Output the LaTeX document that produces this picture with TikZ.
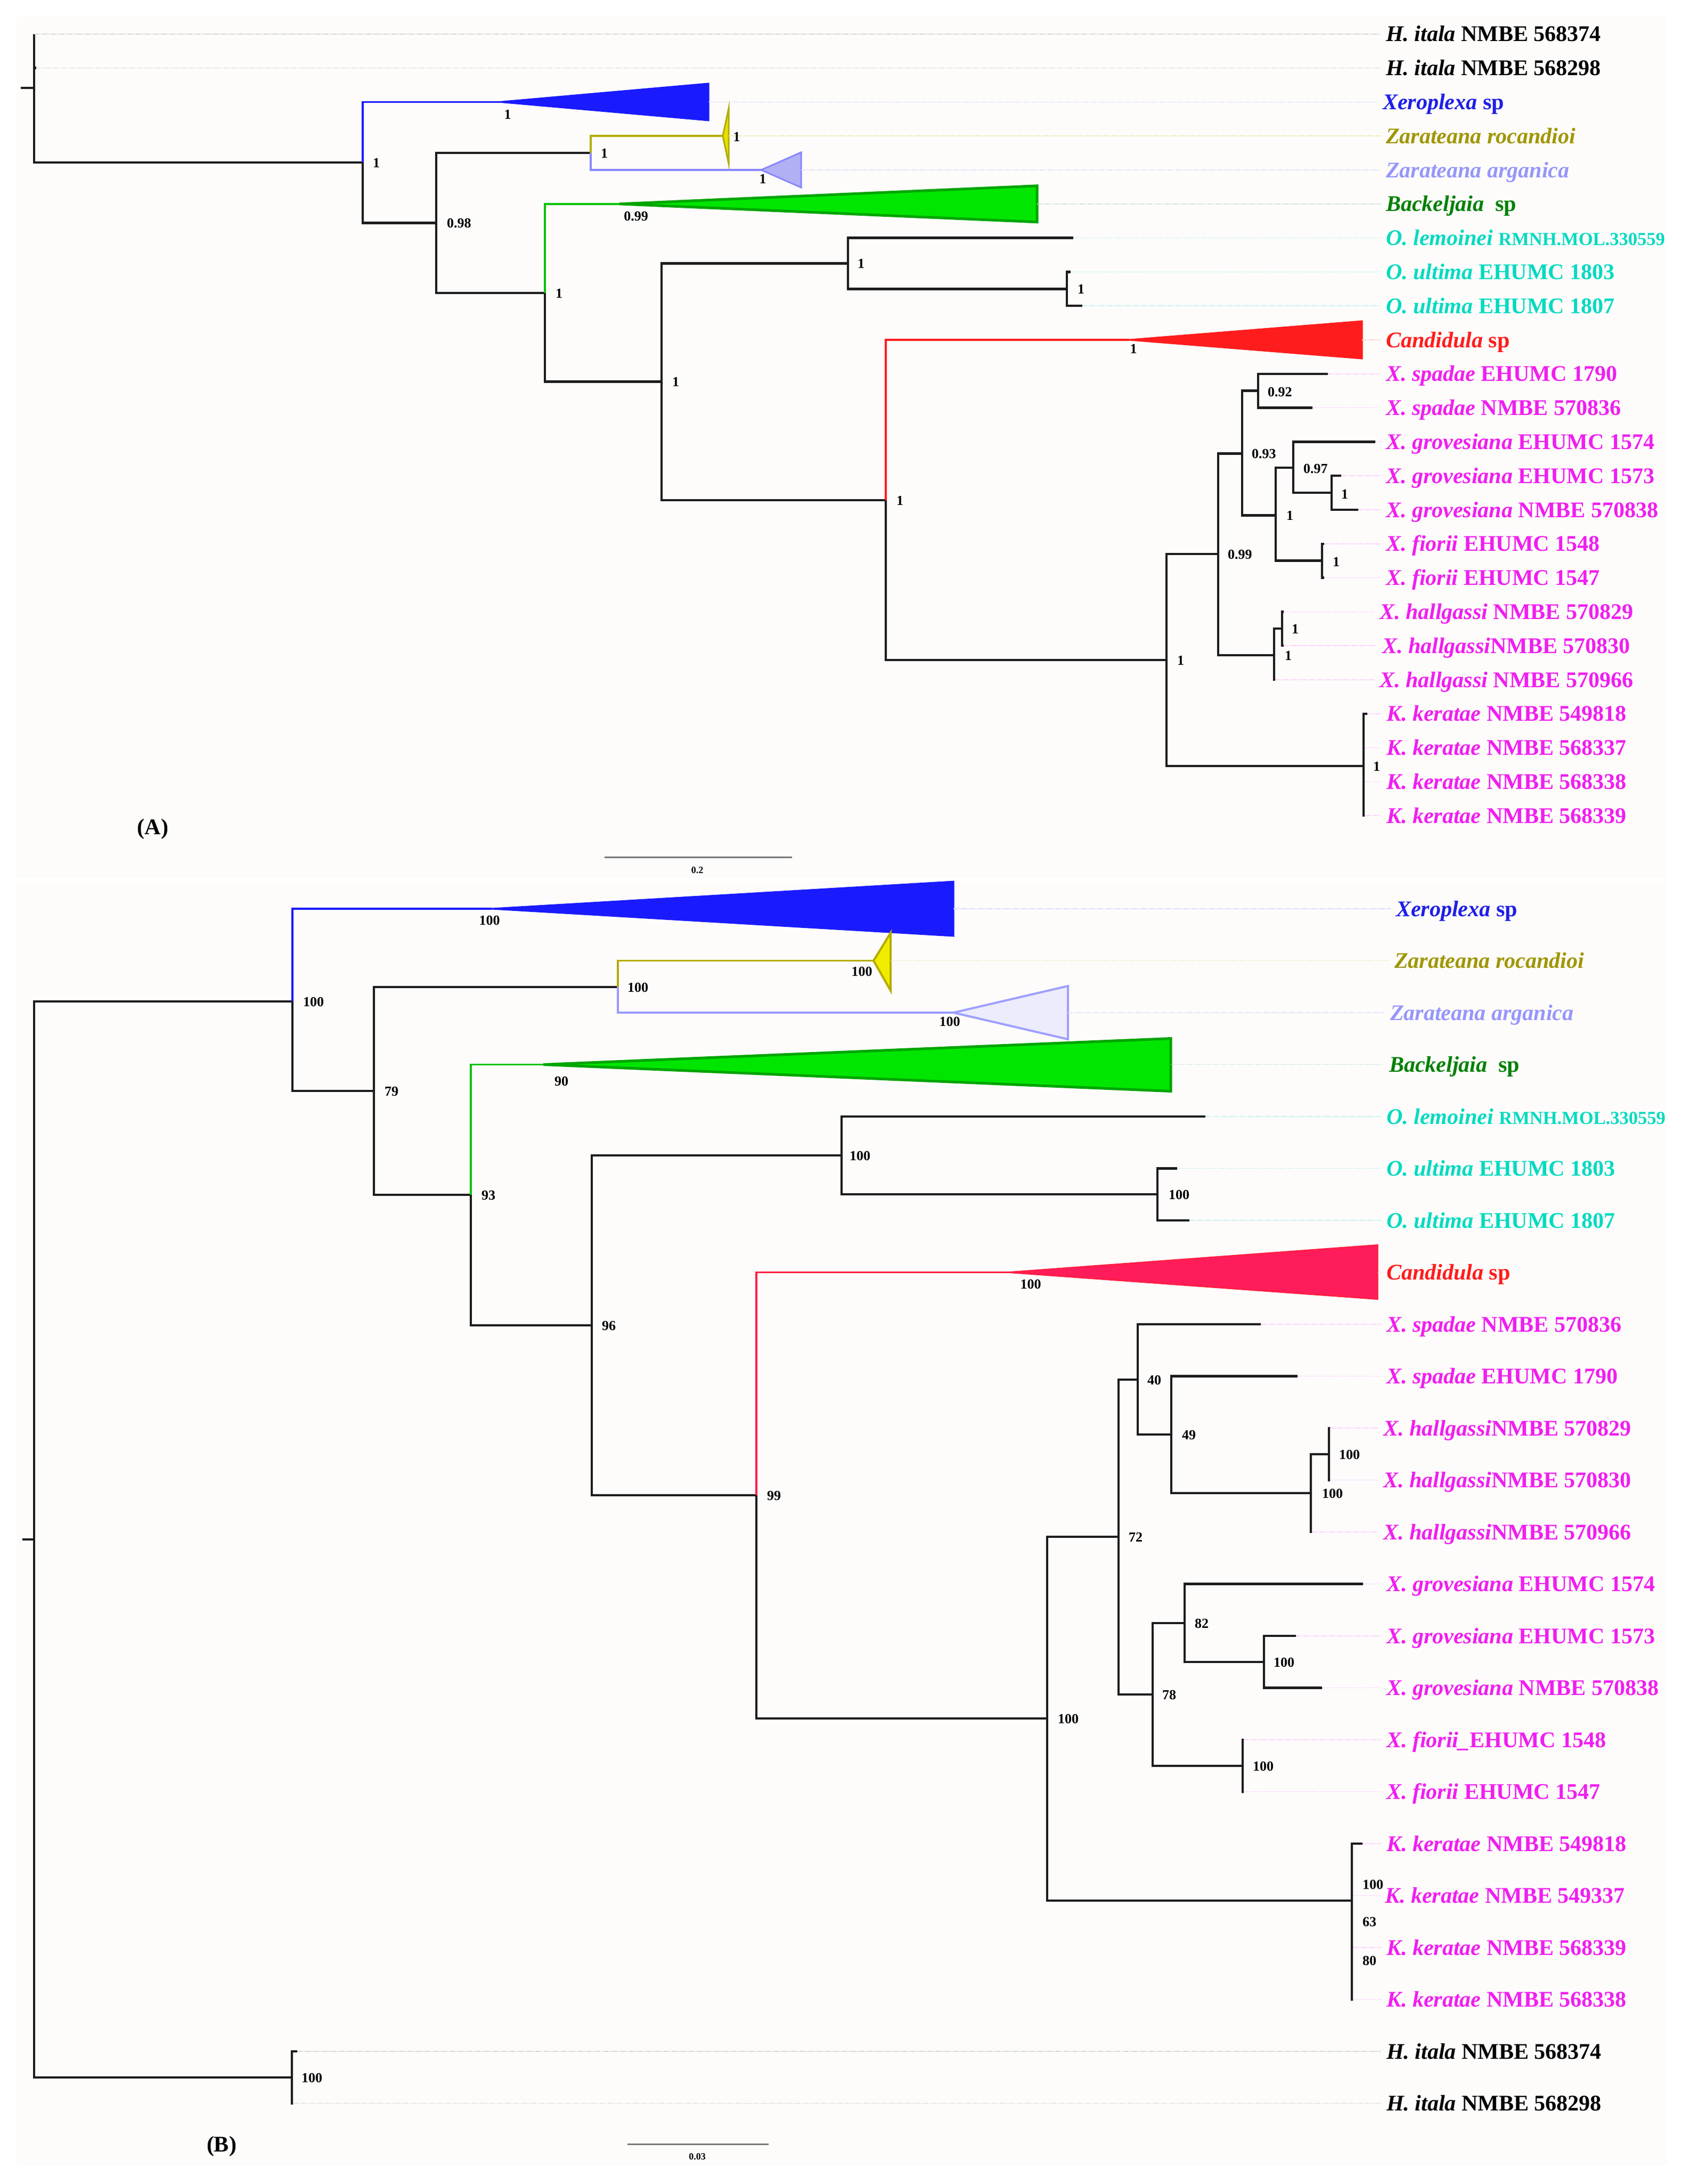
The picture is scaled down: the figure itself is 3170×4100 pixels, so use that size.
\documentclass[tikz,border=0pt]{standalone}
\usepackage{fontspec}
\setmainfont{Liberation Serif}
\definecolor{panelbg}{RGB}{253,252,251}
\definecolor{brk}{RGB}{28,28,28}
\definecolor{xblue}{RGB}{26,26,255}
\definecolor{xbluelab}{RGB}{30,30,230}
\definecolor{zolive}{RGB}{180,172,0}
\definecolor{zolivelab}{RGB}{160,150,0}
\definecolor{zyellow}{RGB}{240,236,0}
\definecolor{zlav}{RGB}{135,135,255}
\definecolor{zlavlab}{RGB}{150,150,250}
\definecolor{zlavfillA}{RGB}{176,176,245}
\definecolor{zlavfillB}{RGB}{236,236,252}
\definecolor{bgreen}{RGB}{0,195,0}
\definecolor{bgreenfill}{RGB}{0,230,0}
\definecolor{bgreendark}{RGB}{0,165,0}
\definecolor{bgreenlab}{RGB}{0,128,0}
\definecolor{ocyan}{RGB}{0,218,192}
\definecolor{cred}{RGB}{255,28,28}
\definecolor{cpink}{RGB}{255,28,90}
\definecolor{cpinkline}{RGB}{255,30,70}
\definecolor{xmag}{RGB}{240,30,240}
\definecolor{ldgray}{RGB}{195,195,195}
\definecolor{ldblue}{RGB}{200,200,255}
\definecolor{ldolive}{RGB}{232,228,160}
\definecolor{ldlav}{RGB}{215,215,255}
\definecolor{ldgreen}{RGB}{190,222,190}
\definecolor{ldcyan}{RGB}{170,240,230}
\definecolor{ldred}{RGB}{255,190,190}
\definecolor{ldmag}{RGB}{255,190,255}
\definecolor{scalegray}{RGB}{120,120,120}
\begin{document}
\begin{tikzpicture}[x=1pt,y=-1pt,
  br/.style={line width=4.5pt, draw=brk},
  brc/.style={line width=3.5pt},
  ldr/.style={line width=1.6pt, dash pattern=on 1.6pt off 1.6pt, shorten >=10pt},
  lab/.style={anchor=base west, inner sep=0pt, yshift=-14pt, font=\fontsize{42}{48}\selectfont\bfseries},
  supp/.style={anchor=base west, inner sep=0pt, yshift=-9pt, font=\fontsize{26}{30}\selectfont\bfseries},
  suppc/.style={anchor=base, inner sep=0pt, yshift=-9pt, font=\fontsize{26}{30}\selectfont\bfseries},
  scl/.style={anchor=base, inner sep=0pt, yshift=-6pt, font=\fontsize{18}{20}\selectfont\bfseries},
  panlab/.style={anchor=base, inner sep=0pt, yshift=-14pt, font=\fontsize{42}{48}\selectfont\bfseries},
  tri/.style={line width=3pt, line join=miter}
]
\useasboundingbox (0,0) rectangle (3170,4100);
\fill[white] (0,0) rectangle (3170,4100);
\fill[panelbg] (31,31) rectangle (3130,1649);
\fill[panelbg] (31,1654) rectangle (3130,4065);

%%%%%%%%%%%%%%%%%%%%%%%% PANEL A %%%%%%%%%%%%%%%%%%%%%%%%
% internal nodes
\coordinate (sA) at (39,165);
\coordinate (rA) at (64,165);
\coordinate (NA1) at (681,305);
\coordinate (NA2) at (819,418.5);
\coordinate (NA3) at (1109,287);
\coordinate (NA4) at (1023,550);
\coordinate (NA5) at (1242,716.7);
\coordinate (NA6) at (1592,494.5);
\coordinate (NA7) at (2003,542.3);
\coordinate (NA8) at (1663,939);
\coordinate (NA9) at (2190,1239);
\coordinate (NA10) at (2560,1438);
\coordinate (NA11) at (2287,1040);
\coordinate (NA12) at (2332,851.5);
\coordinate (NA13) at (2362,733.7);
\coordinate (NA14) at (2395,967.5);
\coordinate (NA15) at (2428,878);
\coordinate (NA16) at (2500,925);
\coordinate (NA17) at (2482,1052.7);
\coordinate (NA18) at (2392,1230);
\coordinate (NA19) at (2407,1180);
% tips and clade apices
\coordinate (tA0) at (64,63.8);
\coordinate (tA1) at (68,127.6);
\coordinate (aA2) at (939,191.4);  \coordinate (eA2) at (1330,191.4);
\coordinate (aA3) at (1357,255.2); \coordinate (eA3) at (1368,255.2);
\coordinate (aA4) at (1429,319);   \coordinate (eA4) at (1504,319);
\coordinate (aA5) at (1163,382.8); \coordinate (eA5) at (1947,382.8);
\coordinate (tA6) at (2015,446.6);
\coordinate (tA7) at (2010,510.4);
\coordinate (tA8) at (2032,574.2);
\coordinate (aA9) at (2120,638);   \coordinate (eA9) at (2557,638);
\coordinate (tA10) at (2493,701.8);
\coordinate (tA11) at (2464,765.6);
\coordinate (tA12) at (2582,829.4);
\coordinate (tA13) at (2518,893.2);
\coordinate (tA14) at (2550,957);
\coordinate (tA15) at (2486,1020.8);
\coordinate (tA16) at (2486,1084.6);
\coordinate (tA17) at (2410,1148.4);
\coordinate (tA18) at (2410,1212.2);
\coordinate (tA19) at (2394,1276);
\coordinate (tA20) at (2567,1339.8);
\coordinate (tA21) at (2562,1403.6);
\coordinate (tA22) at (2562,1467.4);
\coordinate (tA23) at (2562,1531.2);

% collapsed clades
\filldraw[tri, fill=xblue, draw=xblue] (aA2) -- ++(391,-34.5) -- ++(0,69) -- cycle;
\filldraw[tri, fill=zyellow!85!zolive, draw=zolive] (aA3) -- ++(11,-52) -- ++(0,104) -- cycle;
\filldraw[tri, fill=zlavfillA, draw=zlav] (aA4) -- ++(75,-33) -- ++(0,66) -- cycle;
\filldraw[tri, line width=5pt, fill=bgreenfill, draw=bgreendark] (aA5) -- ++(784,-34) -- ++(0,68) -- cycle;
\filldraw[tri, fill=cred, draw=cred] (aA9) -- ++(437,-35) -- ++(0,70) -- cycle;

% branches
\draw[br] (sA) -- (rA);
\draw[br] (rA) |- (tA0);
\draw[br] (rA) |- (tA1);
\draw[br] (rA) |- (NA1);
\draw[brc, xblue] (NA1) |- (aA2);
\draw[br] (NA1) |- (NA2);
\draw[br] (NA2) |- (NA3);
\draw[br] (NA2) |- (NA4);
\draw[brc, zolive] (NA3) |- (aA3);
\draw[brc, zlav] (NA3) |- (aA4);
\draw[brc, bgreen] (NA4) |- (aA5);
\draw[br] (NA4) |- (NA5);
\draw[br] (NA5) |- (NA6);
\draw[br] (NA5) |- (NA8);
\draw[br] (NA6) |- (tA6);
\draw[br] (NA6) |- (NA7);
\draw[br] (NA7) |- (tA7);
\draw[br] (NA7) |- (tA8);
\draw[brc, cred] (NA8) |- (aA9);
\draw[br] (NA8) |- (NA9);
\draw[br] (NA9) |- (NA11);
\draw[br] (NA9) |- (NA10);
\draw[br] (NA11) |- (NA12);
\draw[br] (NA11) |- (NA18);
\draw[br] (NA12) |- (NA13);
\draw[br] (NA12) |- (NA14);
\draw[br] (NA13) |- (tA10);
\draw[br] (NA13) |- (tA11);
\draw[br] (NA14) |- (NA15);
\draw[br] (NA14) |- (NA17);
\draw[br] (NA15) |- (tA12);
\draw[br] (NA15) |- (NA16);
\draw[br] (NA16) |- (tA13);
\draw[br] (NA16) |- (tA14);
\draw[br] (NA17) |- (tA15);
\draw[br] (NA17) |- (tA16);
\draw[br] (NA18) |- (NA19);
\draw[br] (NA18) |- (tA19);
\draw[br] (NA19) |- (tA17);
\draw[br] (NA19) |- (tA18);
\draw[br] (NA10) |- (tA20);
\draw[br] (NA10) |- (tA21);
\draw[br] (NA10) |- (tA22);
\draw[br] (NA10) |- (tA23);

% labels A
\node[lab] (LA0) at (2602,63.8) {{\itshape H. itala} NMBE 568374};
\node[lab] (LA1) at (2602,127.6) {{\itshape H. itala} NMBE 568298};
\node[lab, text=xbluelab] (LA2) at (2596,191.4) {{\itshape Xeroplexa} sp};
\node[lab, text=zolivelab] (LA3) at (2602,255.2) {\itshape Zarateana rocandioi};
\node[lab, text=zlavlab] (LA4) at (2602,319) {\itshape Zarateana arganica};
\node[lab, text=bgreenlab] (LA5) at (2602,382.8) {{\itshape Backeljaia}\ \ sp};
\node[lab, text=ocyan] (LA6) at (2602,446.6) {{\itshape O. lemoinei} {\fontsize{34.5}{40}\selectfont RMNH.MOL.330559}};
\node[lab, text=ocyan] (LA7) at (2602,510.4) {{\itshape O. ultima} EHUMC 1803};
\node[lab, text=ocyan] (LA8) at (2602,574.2) {{\itshape O. ultima} EHUMC 1807};
\node[lab, text=cred] (LA9) at (2602,638) {{\itshape Candidula} sp};
\node[lab, text=xmag] (LA10) at (2602,701.8) {{\itshape X. spadae} EHUMC 1790};
\node[lab, text=xmag] (LA11) at (2602,765.6) {{\itshape X. spadae} NMBE 570836};
\node[lab, text=xmag] (LA12) at (2602,829.4) {{\itshape X. grovesiana} EHUMC 1574};
\node[lab, text=xmag] (LA13) at (2602,893.2) {{\itshape X. grovesiana} EHUMC 1573};
\node[lab, text=xmag] (LA14) at (2602,957) {{\itshape X. grovesiana} NMBE 570838};
\node[lab, text=xmag] (LA15) at (2602,1020.8) {{\itshape X. fiorii} EHUMC 1548};
\node[lab, text=xmag] (LA16) at (2602,1084.6) {{\itshape X. fiorii} EHUMC 1547};
\node[lab, text=xmag] (LA17) at (2590,1148.4) {{\itshape X. hallgassi} NMBE 570829};
\node[lab, text=xmag] (LA18) at (2595,1212.2) {{\itshape X. hallgassi}NMBE 570830};
\node[lab, text=xmag] (LA19) at (2590,1276) {{\itshape X. hallgassi} NMBE 570966};
\node[lab, text=xmag] (LA20) at (2603,1339.8) {{\itshape K. keratae} NMBE 549818};
\node[lab, text=xmag] (LA21) at (2603,1403.6) {{\itshape K. keratae} NMBE 568337};
\node[lab, text=xmag] (LA22) at (2603,1467.4) {{\itshape K. keratae} NMBE 568338};
\node[lab, text=xmag] (LA23) at (2603,1531.2) {{\itshape K. keratae} NMBE 568339};

% leaders A
\draw[ldr, ldgray] (tA0) -- (LA0.west |- tA0);
\draw[ldr, ldgray] (tA1) -- (LA1.west |- tA1);
\draw[ldr, ldblue] (eA2) -- (LA2.west |- eA2);
\draw[ldr, ldolive] (eA3) -- (LA3.west |- eA3);
\draw[ldr, ldlav] (eA4) -- (LA4.west |- eA4);
\draw[ldr, ldgreen] (eA5) -- (LA5.west |- eA5);
\draw[ldr, ldcyan] (tA6) -- (LA6.west |- tA6);
\draw[ldr, ldcyan] (tA7) -- (LA7.west |- tA7);
\draw[ldr, ldcyan] (tA8) -- (LA8.west |- tA8);
\draw[ldr, ldred] (eA9) -- (LA9.west |- eA9);
\foreach \i in {10,...,23}{\draw[ldr, ldmag] (tA\i) -- (LA\i.west |- tA\i);}

% support values A
\node[supp] (sa1) at (700,305) {1};
\node[supp] (sa2) at (839,418.5) {0.98};
\node[supp] (sa3) at (1128,287) {1};
\node[supp] (sa4) at (1043,550) {1};
\node[supp] (sa5) at (1262,716.7) {1};
\node[supp] (sa6) at (1610,494.5) {1};
\node[supp] (sa7) at (2023,542.3) {1};
\node[supp] (sa8) at (1683,939) {1};
\node[supp] (sa9) at (2210,1239) {1};
\node[supp] (sa10) at (2578,1438) {1};
\node[supp] (sa11) at (2305,1040) {0.99};
\node[supp] (sa12) at (2350,851.5) {0.93};
\node[supp] (sa13) at (2380,735) {0.92};
\node[supp] (sa14) at (2415,967.5) {1};
\node[supp] (sa15) at (2447,879) {0.97};
\node[supp] (sa16) at (2518,927) {1};
\node[supp] (sa17) at (2502,1054) {1};
\node[supp] (sa18) at (2412,1230) {1};
\node[supp] (sa19) at (2425,1180) {1};
\node[suppc] (sc2) at (953,214) {1};
\node[suppc] (sc3) at (1383,256) {1};
\node[suppc] (sc4) at (1432,335) {1};
\node[suppc] (sc5) at (1194,405) {0.99};
\node[suppc] (sc9) at (2128,654) {1};

% scale A and panel label
\coordinate (scA1) at (1135,1609);
\coordinate (scA2) at (1487,1609);
\draw[line width=3pt, scalegray] (scA1) -- (scA2);
\node[scl] (scAl) at (1309,1633) {0.2};
\node[panlab] (PA) at (287,1552) {(A)};

%%%%%%%%%%%%%%%%%%%%%%%% PANEL B %%%%%%%%%%%%%%%%%%%%%%%%
\coordinate (sB) at (42,2890);
\coordinate (rB) at (64,2890);
\coordinate (NB1) at (549,1880);
\coordinate (NB2) at (702,2048);
\coordinate (NB3) at (1160,1853);
\coordinate (NB4) at (884,2243);
\coordinate (NB5) at (1111,2488);
\coordinate (NB6) at (1580,2169);
\coordinate (NB7) at (2173,2242);
\coordinate (NB8) at (1420,2807);
\coordinate (NB9) at (1966,3226);
\coordinate (NB10) at (2100,2885);
\coordinate (NB11) at (2136,2590);
\coordinate (NB12) at (2199,2693);
\coordinate (NB13) at (2461,2803);
\coordinate (NB14) at (2495,2730);
\coordinate (NB15) at (2164,3181);
\coordinate (NB16) at (2224,3047);
\coordinate (NB17) at (2373,3120);
\coordinate (NB18) at (2333,3315);
\coordinate (NB19) at (2538,3568);
\coordinate (NBH) at (548,3900);

\coordinate (aB0) at (923,1706);    \coordinate (eB0) at (1790,1706);
\coordinate (aB1) at (1640,1803.5); \coordinate (eB1) at (1672,1803.5);
\coordinate (aB2) at (1790,1901);   \coordinate (eB2) at (2005,1901);
\coordinate (aB3) at (1020,1998.5); \coordinate (eB3) at (2198,1998.5);
\coordinate (tB4) at (2263,2096);
\coordinate (tB5) at (2210,2193.5);
\coordinate (tB6) at (2233,2291);
\coordinate (aB7) at (1895,2388.5); \coordinate (eB7) at (2586,2388.5);
\coordinate (tB8) at (2367,2486);
\coordinate (tB9) at (2436,2583.5);
\coordinate (tB10) at (2497,2681);
\coordinate (tB11) at (2497,2778.5);
\coordinate (tB12) at (2463,2876);
\coordinate (tB13) at (2559,2973.5);
\coordinate (tB14) at (2433,3071);
\coordinate (tB15) at (2482,3168.5);
\coordinate (tB16) at (2335,3266);
\coordinate (tB17) at (2335,3363.5);
\coordinate (tB18) at (2558,3461);
\coordinate (tB19) at (2540,3558.5);
\coordinate (tB20) at (2540,3656);
\coordinate (tB21) at (2540,3753.5);
\coordinate (tB22) at (558,3851);
\coordinate (tB23) at (550,3948.5);

\filldraw[tri, fill=xblue, draw=xblue] (aB0) -- ++(867,-51) -- ++(0,102) -- cycle;
\filldraw[tri, line width=4pt, fill=zyellow, draw=zolive] (aB1) -- ++(32,-52) -- ++(0,108) -- cycle;
\filldraw[tri, line width=4pt, fill=zlavfillB, draw=zlav!80] (aB2) -- ++(215,-50) -- ++(0,100) -- cycle;
\filldraw[tri, line width=5pt, fill=bgreenfill, draw=bgreendark] (aB3) -- ++(1178,-49) -- ++(0,99) -- cycle;
\filldraw[tri, fill=cpink, draw=cpinkline] (aB7) -- ++(691,-51) -- ++(0,101) -- cycle;

\draw[br] (sB) -- (rB);
\draw[br] (rB) |- (NB1);
\draw[br] (rB) |- (NBH);
\draw[brc, xblue] (NB1) |- (aB0);
\draw[br] (NB1) |- (NB2);
\draw[br] (NB2) |- (NB3);
\draw[br] (NB2) |- (NB4);
\draw[brc, zolive] (NB3) |- (aB1);
\draw[brc, zlav!85] (NB3) |- (aB2);
\draw[brc, bgreen] (NB4) |- (aB3);
\draw[br] (NB4) |- (NB5);
\draw[br] (NB5) |- (NB6);
\draw[br] (NB5) |- (NB8);
\draw[br] (NB6) |- (tB4);
\draw[br] (NB6) |- (NB7);
\draw[br] (NB7) |- (tB5);
\draw[br] (NB7) |- (tB6);
\draw[brc, cpinkline] (NB8) |- (aB7);
\draw[br] (NB8) |- (NB9);
\draw[br] (NB9) |- (NB10);
\draw[br] (NB9) |- (NB19);
\draw[br] (NB10) |- (NB11);
\draw[br] (NB10) |- (NB15);
\draw[br] (NB11) |- (tB8);
\draw[br] (NB11) |- (NB12);
\draw[br] (NB12) |- (tB9);
\draw[br] (NB12) |- (NB13);
\draw[br] (NB13) |- (NB14);
\draw[br] (NB13) |- (tB12);
\draw[br] (NB14) |- (tB10);
\draw[br] (NB14) |- (tB11);
\draw[br] (NB15) |- (NB16);
\draw[br] (NB15) |- (NB18);
\draw[br] (NB16) |- (tB13);
\draw[br] (NB16) |- (NB17);
\draw[br] (NB17) |- (tB14);
\draw[br] (NB17) |- (tB15);
\draw[br] (NB18) |- (tB16);
\draw[br] (NB18) |- (tB17);
\draw[br] (NB19) |- (tB18);
\draw[br] (NB19) |- (tB19);
\draw[br] (NB19) |- (tB20);
\draw[br] (NB19) |- (tB21);
\draw[br] (NBH) |- (tB22);
\draw[br] (NBH) |- (tB23);

% labels B
\node[lab, text=xbluelab] (LB0) at (2621,1706) {{\itshape Xeroplexa} sp};
\node[lab, text=zolivelab] (LB1) at (2618,1803.5) {\itshape Zarateana rocandioi};
\node[lab, text=zlavlab] (LB2) at (2610,1901) {\itshape Zarateana arganica};
\node[lab, text=bgreenlab] (LB3) at (2608,1998.5) {{\itshape Backeljaia}\ \ sp};
\node[lab, text=ocyan] (LB4) at (2603,2096) {{\itshape O. lemoinei} {\fontsize{34.5}{40}\selectfont RMNH.MOL.330559}};
\node[lab, text=ocyan] (LB5) at (2603,2193.5) {{\itshape O. ultima} EHUMC 1803};
\node[lab, text=ocyan] (LB6) at (2603,2291) {{\itshape O. ultima} EHUMC 1807};
\node[lab, text=cred] (LB7) at (2603,2388.5) {{\itshape Candidula} sp};
\node[lab, text=xmag] (LB8) at (2603,2486) {{\itshape X. spadae} NMBE 570836};
\node[lab, text=xmag] (LB9) at (2603,2583.5) {{\itshape X. spadae} EHUMC 1790};
\node[lab, text=xmag] (LB10) at (2597,2681) {{\itshape X. hallgassi}NMBE 570829};
\node[lab, text=xmag] (LB11) at (2597,2778.5) {{\itshape X. hallgassi}NMBE 570830};
\node[lab, text=xmag] (LB12) at (2597,2876) {{\itshape X. hallgassi}NMBE 570966};
\node[lab, text=xmag] (LB13) at (2603,2973.5) {{\itshape X. grovesiana} EHUMC 1574};
\node[lab, text=xmag] (LB14) at (2603,3071) {{\itshape X. grovesiana} EHUMC 1573};
\node[lab, text=xmag] (LB15) at (2603,3168.5) {{\itshape X. grovesiana} NMBE 570838};
\node[lab, text=xmag] (LB16) at (2603,3266) {{\itshape X. fiorii\_}EHUMC 1548};
\node[lab, text=xmag] (LB17) at (2603,3363.5) {{\itshape X. fiorii} EHUMC 1547};
\node[lab, text=xmag] (LB18) at (2603,3461) {{\itshape K. keratae} NMBE 549818};
\node[lab, text=xmag] (LB19) at (2600,3558.5) {{\itshape K. keratae} NMBE 549337};
\node[lab, text=xmag] (LB20) at (2603,3656) {{\itshape K. keratae} NMBE 568339};
\node[lab, text=xmag] (LB21) at (2603,3753.5) {{\itshape K. keratae} NMBE 568338};
\node[lab] (LB22) at (2603,3851) {{\itshape H. itala} NMBE 568374};
\node[lab] (LB23) at (2603,3948.5) {{\itshape H. itala} NMBE 568298};

% leaders B
\draw[ldr, ldblue] (eB0) -- (LB0.west |- eB0);
\draw[ldr, ldolive] (eB1) -- (LB1.west |- eB1);
\draw[ldr, ldlav] (eB2) -- (LB2.west |- eB2);
\draw[ldr, ldgreen] (eB3) -- (LB3.west |- eB3);
\draw[ldr, ldcyan] (tB4) -- (LB4.west |- tB4);
\draw[ldr, ldcyan] (tB5) -- (LB5.west |- tB5);
\draw[ldr, ldcyan] (tB6) -- (LB6.west |- tB6);
\draw[ldr, ldred] (eB7) -- (LB7.west |- eB7);
\foreach \i in {8,...,21}{\draw[ldr, ldmag] (tB\i) -- (LB\i.west |- tB\i);}
\draw[ldr, ldgray] (tB22) -- (LB22.west |- tB22);
\draw[ldr, ldgray] (tB23) -- (LB23.west |- tB23);

% support values B
\node[supp] (sb1) at (569,1880) {100};
\node[supp] (sb2) at (722,2048) {79};
\node[supp] (sb3) at (1178,1853) {100};
\node[supp] (sb4) at (904,2243) {93};
\node[supp] (sb5) at (1130,2488) {96};
\node[supp] (sb6) at (1595,2169) {100};
\node[supp] (sb7) at (2194,2242) {100};
\node[supp] (sb8) at (1440,2807) {99};
\node[supp] (sb9) at (1986,3226) {100};
\node[supp] (sb10) at (2119,2885) {72};
\node[supp] (sb11) at (2154,2590) {40};
\node[supp] (sb12) at (2219,2693) {49};
\node[supp] (sb13) at (2482,2803) {100};
\node[supp] (sb14) at (2514,2730) {100};
\node[supp] (sb15) at (2182,3181) {78};
\node[supp] (sb16) at (2243,3047) {82};
\node[supp] (sb17) at (2391,3120) {100};
\node[supp] (sb18) at (2352,3315) {100};
\node[supp] (sb19a) at (2558,3537) {100};
\node[supp] (sb19b) at (2558,3607) {63};
\node[supp] (sb19c) at (2558,3680) {80};
\node[supp] (sbH) at (566,3900) {100};
\node[suppc] (sd0) at (919,1727) {100};
\node[suppc] (sd1) at (1618,1823) {100};
\node[suppc] (sd2) at (1783,1917) {100};
\node[suppc] (sd3) at (1054,2029) {90};
\node[suppc] (sd7) at (1935,2410) {100};

% scale B and panel label
\coordinate (scB1) at (1178,4025);
\coordinate (scB2) at (1443,4025);
\draw[line width=3pt, scalegray] (scB1) -- (scB2);
\node[scl] (scBl) at (1309,4048) {0.03};
\node[panlab] (PB) at (416,4025) {(B)};
\end{tikzpicture}
\end{document}
